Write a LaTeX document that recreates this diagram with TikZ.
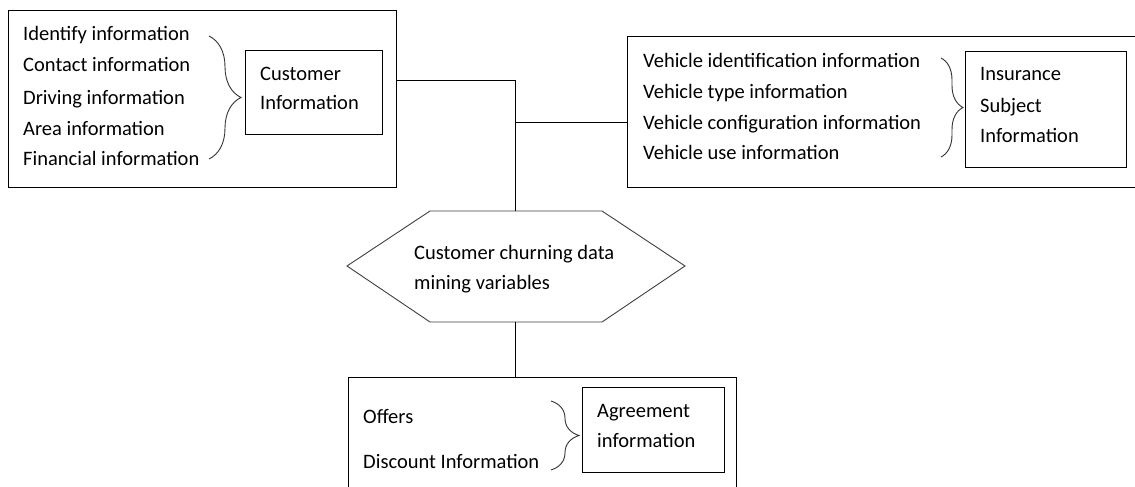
\documentclass[tikz,border=0pt]{standalone}
\usepackage{fontspec}
\setmainfont{Carlito}
\usetikzlibrary{decorations.pathreplacing}
\tikzset{
  box/.style={draw=black, line width=0.9pt},
  lbl/.style={anchor=base west, inner sep=0pt, font=\fontsize{20.5}{24}\selectfont, text=black},
  conn/.style={draw=black, line width=0.9pt},
  curly/.style={draw=black!80, line width=0.9pt, decorate, decoration={brace, amplitude=16pt, aspect=0.5}},
}
\begin{document}
\begin{tikzpicture}[x=1pt, y=-1pt]
\useasboundingbox (0,0) rectangle (1135,487);
\clip (0,0) rectangle (1135,487);
\fill[white] (0,0) rectangle (1135,487);

% Left group
\draw[box] (8,10) rectangle (396,187);
\node[box, minimum width=137pt, minimum height=84pt, anchor=north west] (ci) at (245,50) {};
\node[lbl] (ci1) at (260,81) {Customer};
\node[lbl] (ci2) at (260,110) {Information};
\node[lbl] (l1) at (23,41) {Identify information};
\node[lbl] (l2) at (23,72) {Contact information};
\node[lbl] (l3) at (23,104) {Driving information};
\node[lbl] (l4) at (23,135) {Area information};
\node[lbl] (l5) at (23,165) {Financial information};
\coordinate (b1s) at (209,36);
\coordinate (b1e) at (209,159);
\draw[curly, decoration={amplitude=32pt}] (b1s) -- (b1e);

% Right group
\draw[box] (1140,36) -- (627,36) -- (627,187) -- (1140,187);
\node[box, minimum width=161pt, minimum height=116pt, anchor=north west] (isi) at (965,51) {};
\node[lbl] (isi1) at (980,81) {Insurance};
\node[lbl] (isi2) at (980,112) {Subject};
\node[lbl] (isi3) at (980,142) {Information};
\node[lbl] (r1) at (643,67) {Vehicle identification information};
\node[lbl] (r2) at (643,98) {Vehicle type information};
\node[lbl] (r3) at (643,129) {Vehicle configuration information};
\node[lbl] (r4) at (643,159) {Vehicle use information};
\coordinate (b2s) at (941,58);
\coordinate (b2e) at (941,157);
\draw[curly, decoration={amplitude=22pt}] (b2s) -- (b2e);

% Hexagon
\coordinate (h1) at (430,211);
\coordinate (h2) at (602,211);
\coordinate (h3) at (685,266);
\coordinate (h4) at (602,322);
\coordinate (h5) at (430,322);
\coordinate (h6) at (347,266);
\draw[box, draw=black!75] (h1) -- (h2) -- (h3) -- (h4) -- (h5) -- (h6) -- cycle;
\coordinate (htop) at (515,211);
\coordinate (hbot) at (515,322);
\node[lbl] (hx1) at (414,259) {Customer churning data};
\node[lbl] (hx2) at (414,289) {mining variables};

% Bottom group
\draw[box] (348,495) -- (348,377) -- (736,377) -- (736,495);
\coordinate (btop) at (515,377);
\node[box, minimum width=142pt, minimum height=85pt, anchor=north west] (ag) at (582,387) {};
\node[lbl] (ag1) at (597,417) {Agreement};
\node[lbl] (ag2) at (597,447) {information};
\node[lbl] (o1) at (363,423) {Offers};
\node[lbl] (o2) at (363,468) {Discount Information};
\coordinate (b3s) at (551,401);
\coordinate (b3e) at (551,470);
\draw[curly, decoration={amplitude=28pt}] (b3s) -- (b3e);

% Connectors
\coordinate (lj) at (396,80);
\coordinate (jn) at (515,80);
\coordinate (jr) at (515,122);
\coordinate (rj) at (627,122);
\draw[conn] (lj) -- (jn) -- (htop);
\draw[conn] (jr) -- (rj);
\draw[conn] (hbot) -- (btop);
\end{tikzpicture}
\end{document}
